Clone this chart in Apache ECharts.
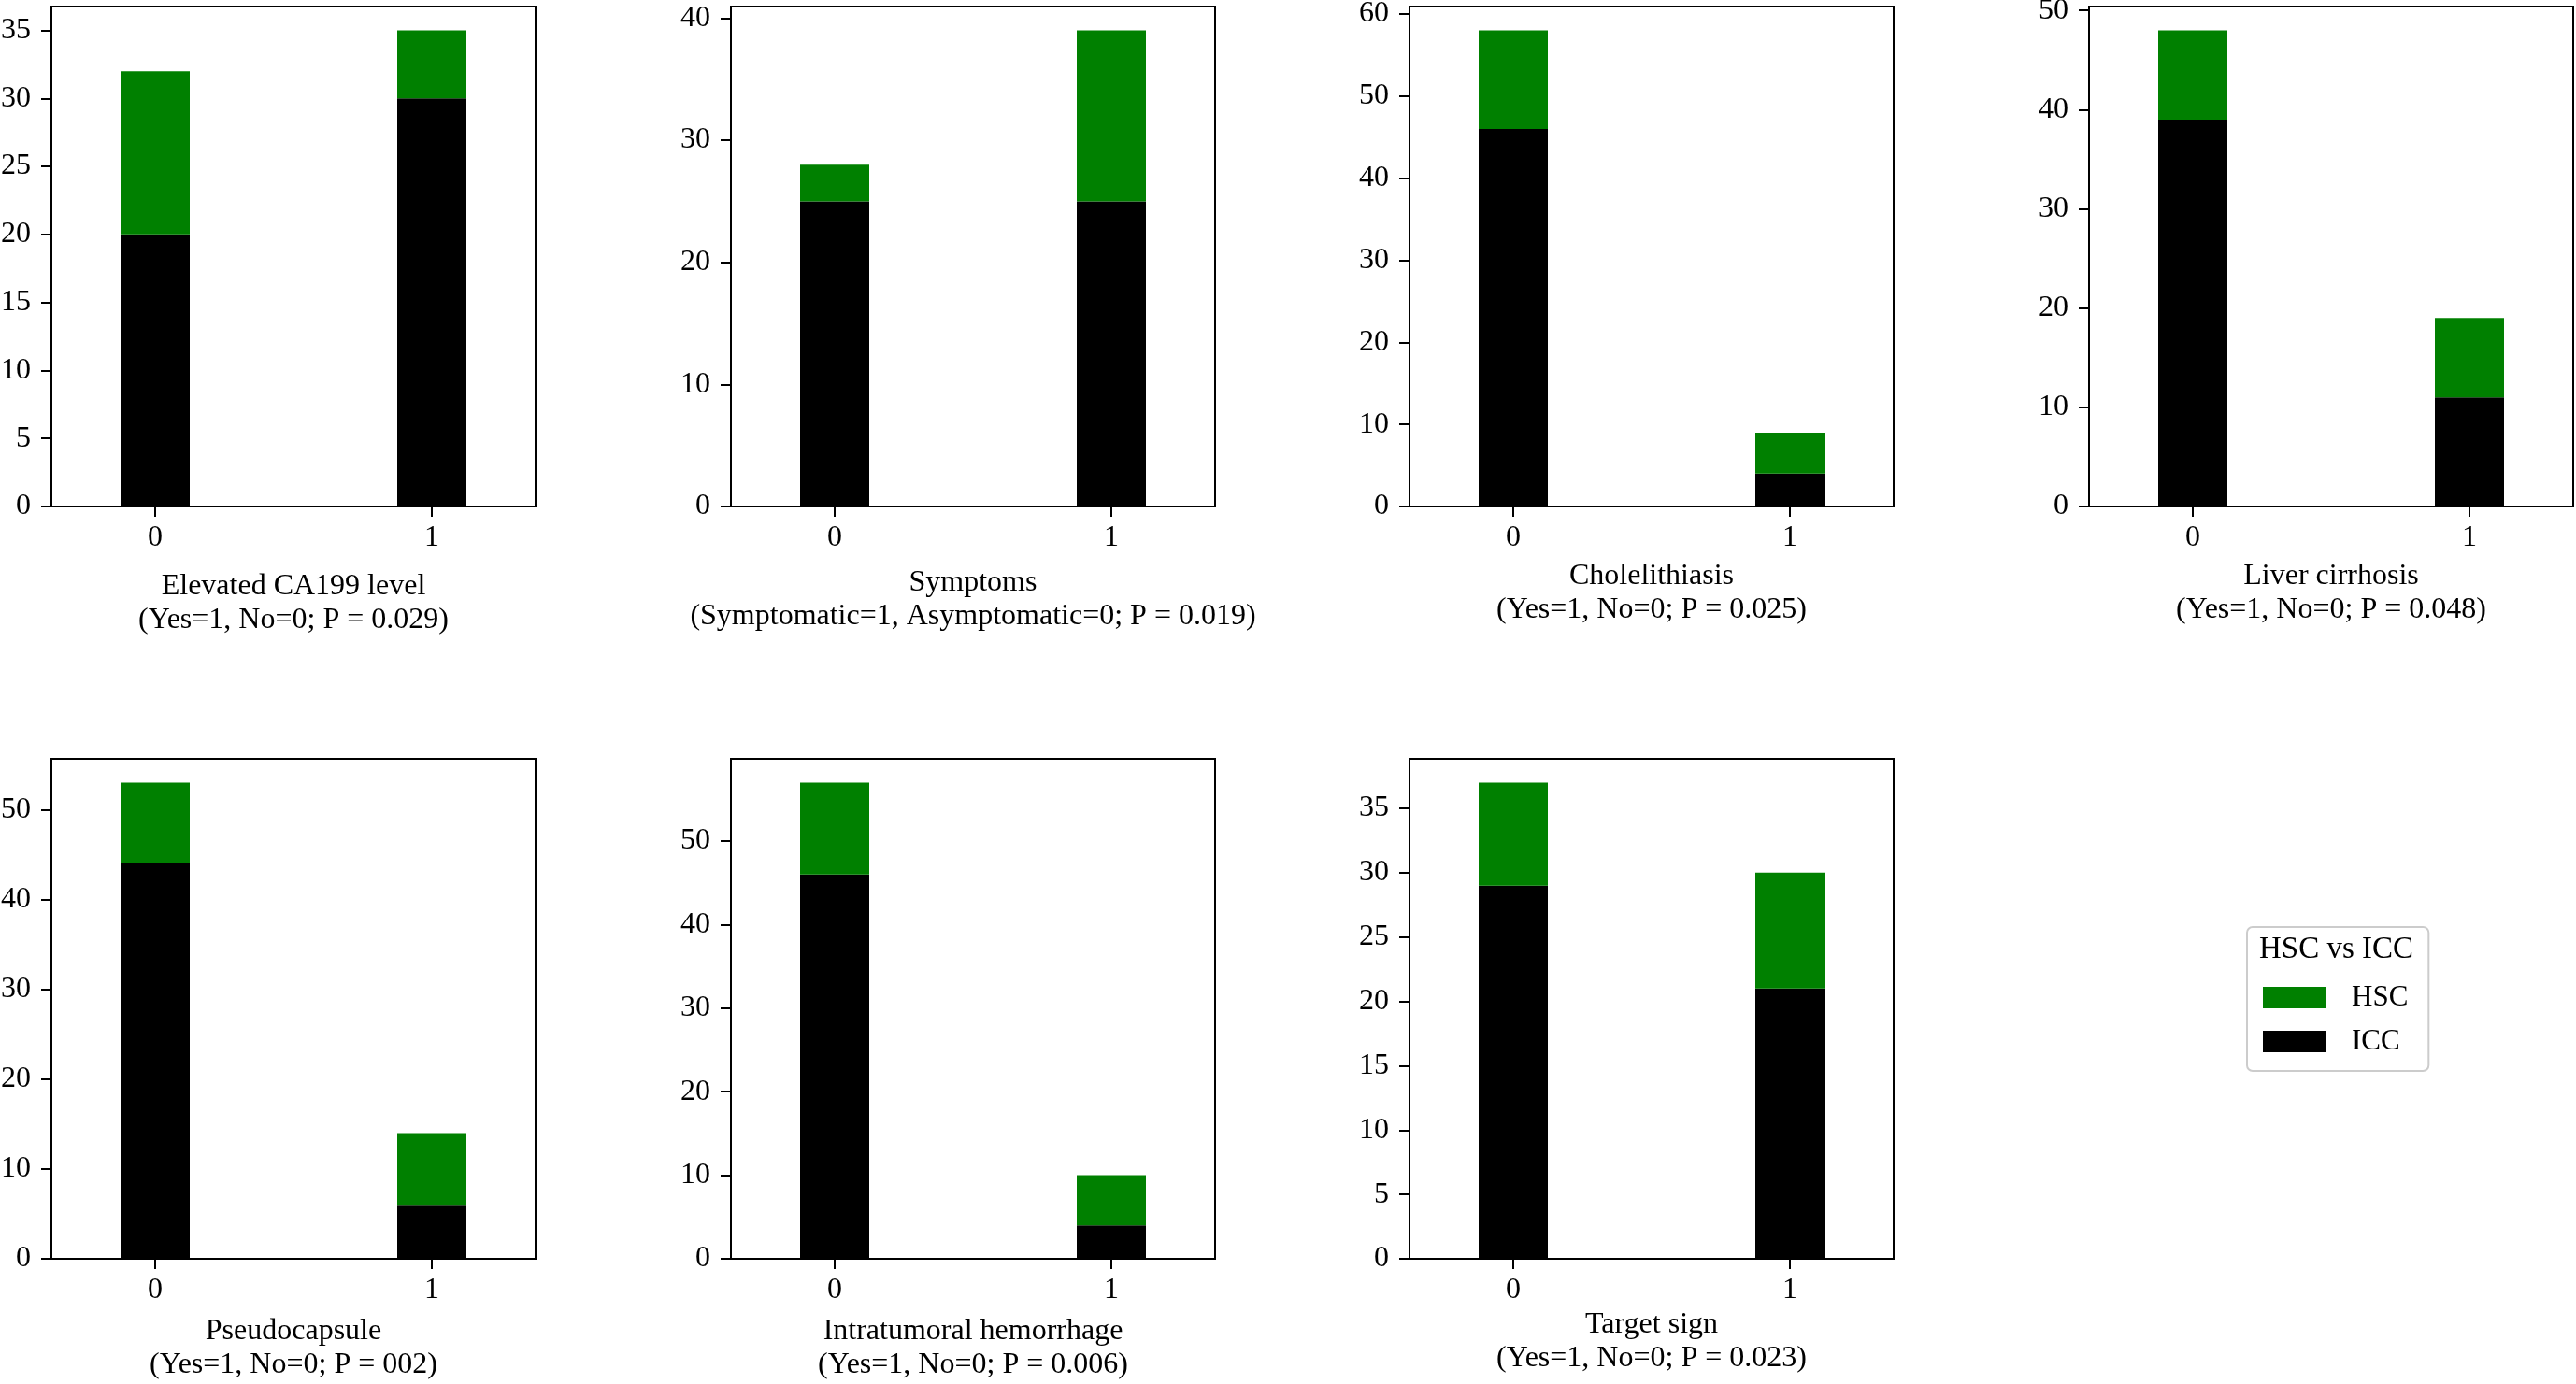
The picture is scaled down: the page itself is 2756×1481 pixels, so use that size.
<!DOCTYPE html>
<html>
<head>
<meta charset="utf-8">
<title>HSC vs ICC</title>
<script src="https://cdn.jsdelivr.net/npm/echarts@6/dist/echarts.min.js"></script>
<style>
  html, body { margin: 0; padding: 0; background: #fff; }
  #main { width: 2756px; height: 1481px; }
</style>
</head>
<body>
<div id="main"></div>
<script>
// panel captions
var featureNames = ['Elevated CA199 level', 'Symptoms', 'Cholelithiasis', 'Liver cirrhosis',
  'Pseudocapsule', 'Intratumoral hemorrhage', 'Target sign'];
var codingNotes = ['(Yes=1, No=0; P = 0.029)', '(Symptomatic=1, Asymptomatic=0; P = 0.019)',
  '(Yes=1, No=0; P = 0.025)', '(Yes=1, No=0; P = 0.048)', '(Yes=1, No=0; P = 002)',
  '(Yes=1, No=0; P = 0.006)', '(Yes=1, No=0; P = 0.023)'];

// x categories (0 / 1) and counts per panel: [group 0, group 1]
var groupCodes = ['0', '1'];
var iccCounts = [[20, 30], [25, 25], [46, 4], [39, 11], [44, 6], [46, 4], [29, 21]];
var hscCounts = [[12, 5], [3, 14], [12, 5], [9, 8], [9, 8], [11, 6], [8, 9]];

// y tick labels per panel
var yTicks = [
  [0, 5, 10, 15, 20, 25, 30, 35],
  [0, 10, 20, 30, 40],
  [0, 10, 20, 30, 40, 50, 60],
  [0, 10, 20, 30, 40, 50],
  [0, 10, 20, 30, 40, 50],
  [0, 10, 20, 30, 40, 50],
  [0, 5, 10, 15, 20, 25, 30, 35]
];

// layout (px). The x range -0.375..1.375 with 0.25 wide bars is 7 equal bands,
// group 0 sits in band 1 and group 1 in band 5.
var boxLefts = [55, 782, 1508, 2235, 55, 782, 1508];
var boxTops = [7, 7, 7, 7, 812, 812, 812];
var BOX_W = 518;
var BOX_H = 535;
var nameGaps = [68, 64, 57, 57, 60, 60, 53];
var BAND_COUNT = 7;
var groupBands = [1, 5];

var FONT = '"Liberation Serif", "Times New Roman", serif';
var GREEN = '#008000';

var bandNames = [];
for (var b = 0; b < BAND_COUNT; b++) {
  var g = groupBands.indexOf(b);
  bandNames.push(g >= 0 ? groupCodes[g] : 'gap' + b);
}
function isGroupBand(idx) {
  return groupBands.indexOf(idx) >= 0;
}
function toBands(counts) {
  return bandNames.map(function (n, idx) {
    var g = groupBands.indexOf(idx);
    return g >= 0 ? counts[g] : '-';
  });
}

var chart = echarts.init(document.getElementById('main'));

var grids = [], xAxes = [], yAxes = [], series = [];
featureNames.forEach(function (name, i) {
  var total = [iccCounts[i][0] + hscCounts[i][0], iccCounts[i][1] + hscCounts[i][1]];
  var top = Math.max(total[0], total[1]) * 1.05;
  grids.push({
    left: boxLefts[i], top: boxTops[i], width: BOX_W, height: BOX_H,
    show: true, borderColor: '#000', borderWidth: 2, backgroundColor: '#fff',
    containLabel: false, outerBoundsMode: 'none'
  });
  xAxes.push({
    gridIndex: i, type: 'category', data: bandNames, boundaryGap: true,
    splitLine: { show: false },
    axisLine: { show: true, onZero: false, lineStyle: { color: '#000', width: 2 } },
    axisTick: {
      show: true, length: 11, alignWithLabel: true,
      interval: function (idx) { return isGroupBand(idx); },
      lineStyle: { color: '#000', width: 2 }
    },
    axisLabel: {
      interval: function (idx) { return isGroupBand(idx); },
      margin: 18, fontSize: 32, fontFamily: FONT, color: '#000'
    },
    name: name + '\n' + codingNotes[i],
    nameLocation: 'middle', nameGap: nameGaps[i], nameMoveOverlap: false,
    nameTextStyle: { fontSize: 32, lineHeight: 36, fontFamily: FONT, color: '#000' }
  });
  yAxes.push({
    gridIndex: i, type: 'value', min: 0, max: top,
    splitLine: { show: false },
    axisLine: { show: true, onZero: false, lineStyle: { color: '#000', width: 2 } },
    axisTick: { show: true, length: 11, customValues: yTicks[i], lineStyle: { color: '#000', width: 2 } },
    axisLabel: { customValues: yTicks[i], margin: 22, fontSize: 32, fontFamily: FONT, color: '#000' }
  });
  series.push({
    name: 'ICC', type: 'bar', stack: 'p' + i, xAxisIndex: i, yAxisIndex: i,
    barWidth: '100%', itemStyle: { color: '#000' },
    data: toBands(iccCounts[i])
  });
  series.push({
    name: 'HSC', type: 'bar', stack: 'p' + i, xAxisIndex: i, yAxisIndex: i,
    barWidth: '100%', itemStyle: { color: GREEN },
    data: toBands(hscCounts[i])
  });
});

var option = {
  backgroundColor: '#fff',
  animation: false,
  title: {
    text: 'HSC vs ICC', left: 2417, top: 1000, padding: 0,
    textStyle: { fontSize: 33, fontWeight: 'normal', fontFamily: FONT, color: '#000' }
  },
  legend: {
    data: ['HSC', 'ICC'],
    orient: 'vertical', left: 2404, top: 992,
    padding: [60, 22, 16, 17],
    itemWidth: 67, itemHeight: 23, itemGap: 16, icon: 'rect',
    borderColor: '#cccccc', borderWidth: 2, borderRadius: 6, backgroundColor: '#fff',
    textStyle: { fontSize: 31, lineHeight: 31, fontFamily: FONT, color: '#000', padding: [0, 0, 0, 23] }
  },
  grid: grids,
  xAxis: xAxes,
  yAxis: yAxes,
  series: series
};

chart.setOption(option);
</script>
</body>
</html>
